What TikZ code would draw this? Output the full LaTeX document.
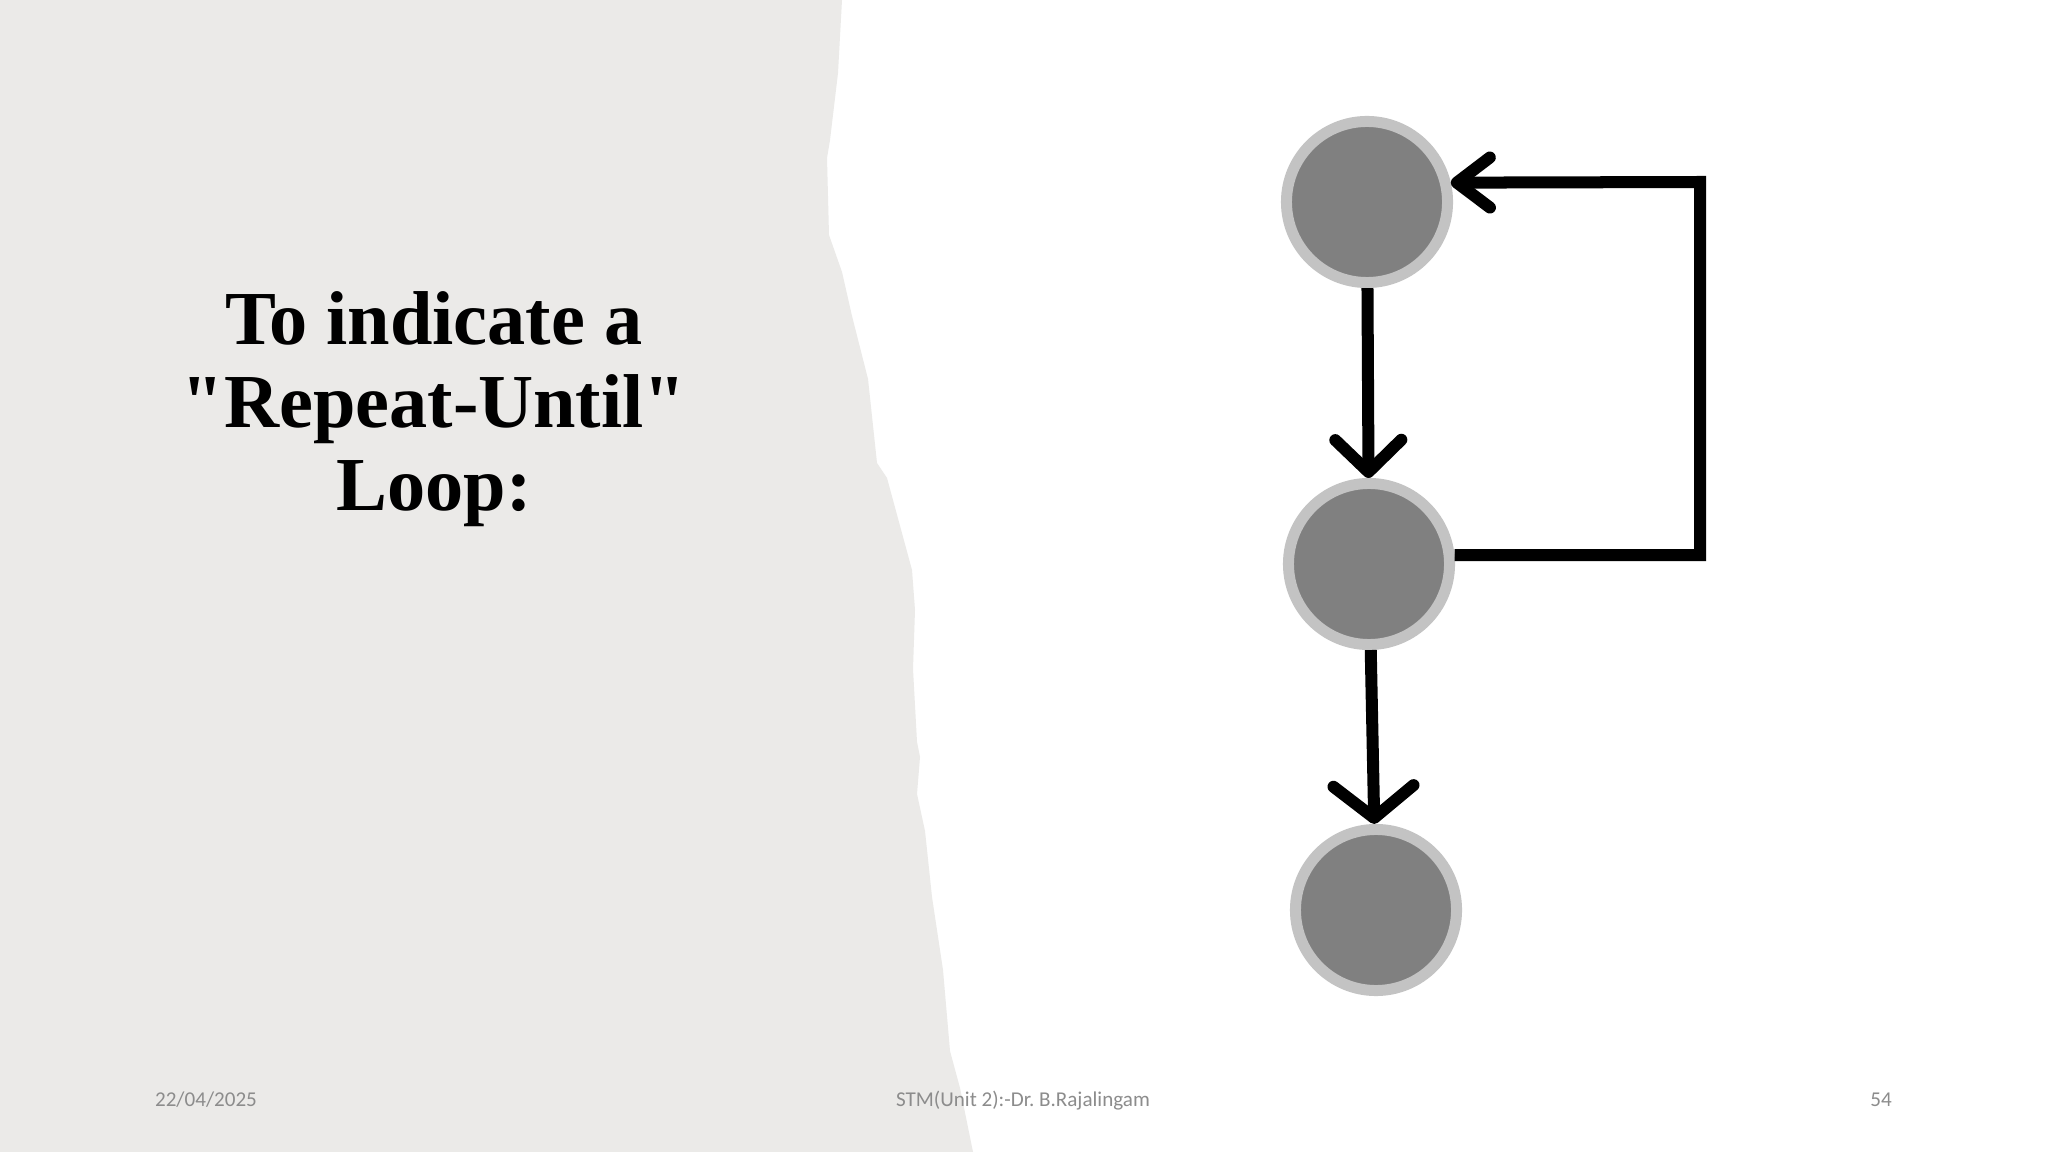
\documentclass[tikz,border=0pt]{standalone}
\usepackage{fontspec}
\setmainfont{Liberation Serif}
\newfontfamily\footfont{Carlito}
\usepackage{tikz}
\usetikzlibrary{calc}
\usetikzlibrary{arrows.meta}
\usetikzlibrary{positioning}
\definecolor{paper}{HTML}{EBEAE8}
\definecolor{ringgray}{HTML}{C3C3C3}
\definecolor{dotgray}{HTML}{808080}
\definecolor{footgray}{HTML}{8C8C8C}
\tikzset{>={Straight Barb[length=3.2mm, width=6.6mm, line cap=round, line join=round]}}
\tikzstyle{stmnode} = [circle, fill=dotgray, draw=ringgray, line width=1.1mm, minimum size=16.1mm, inner sep=0pt]
\tikzstyle{flow} = [->, draw=black, line width=1.2mm]
\tikzstyle{foot} = [font=\footfont\fontsize{6}{7}\selectfont, text=footgray]

\begin{document}
\begin{tikzpicture}[x=0.01cm, y=-0.01cm]
\useasboundingbox (0,0) rectangle (2048,1152);
\fill [white] (0,0) rectangle (2048,1152);
% torn paper on the left
\fill [paper] (0,0) -- (842,0) -- (838,73) -- (830,140) -- (827,158) -- (829,235)
  -- (842,272) -- (852,316) -- (868,379) -- (877,463) -- (887,478) -- (912,570)
  -- (915,610) -- (913,669) -- (917,742) -- (920,757) -- (917,794) -- (925,831)
  -- (932,897) -- (943,970) -- (950,1051) -- (960,1088) -- (973,1152) -- (0,1152) -- cycle;
\node [align=center, font=\bfseries\fontsize{21.7}{23.6}\selectfont] (title) at (434,409)
  {To indicate a\\\textquotedbl Repeat-Until\textquotedbl\\Loop:};
% the loop
\node [stmnode] (n1) at (1367,202) {};
\node [stmnode] (n2) at (1369,564) {};
\node [stmnode] (n3) at (1376,910) {};
\coordinate (rt) at (1700,182);
\draw [flow] (n1) -- (n2);
\draw [flow, {Straight Barb[length=3.2mm, width=8mm, line cap=round, line join=round]}-] (n3) -- (n2);
\draw [flow, >={Straight Barb[length=3.3mm, width=5mm, line cap=round, line join=round]}] (n2.6) -| (rt) -- (n1.13);
% footer
\node [foot] (date) at (206,1100) {22/04/2025};
\node [foot] (author) at (1023,1101) {STM(Unit 2):-Dr.\ B.Rajalingam};
\node [foot] (page) at (1881,1100) {54};
\end{tikzpicture}
\end{document}
